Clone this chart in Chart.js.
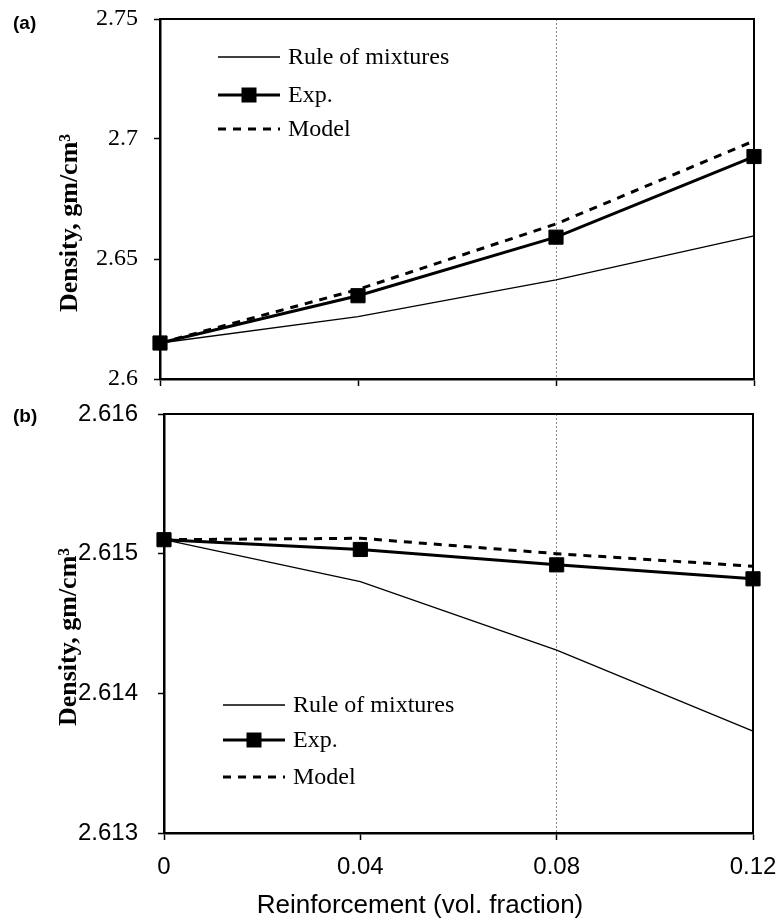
<!DOCTYPE html>
<html>
<head>
<meta charset="utf-8">
<script src="https://cdn.jsdelivr.net/npm/chart.js@4"></script>
<style>
  body { margin: 0; background: #fff; }
  #wrap { position: relative; width: 780px; height: 923px; overflow: hidden; }
  canvas { position: absolute; left: 0; }
  #ca { top: 0; }
  #cb { top: 400px; }
  .tag { position: absolute; left: 13px; font: bold 19px/19px "Liberation Sans", Arial, sans-serif; color: #000; }
</style>
</head>
<body>
<div id="wrap">
  <canvas id="ca" width="780" height="400"></canvas>
  <canvas id="cb" width="780" height="523"></canvas>
  <div class="tag" style="top:13px">(a)</div>
  <div class="tag" style="top:406px">(b)</div>
</div>
<script>
// shared x axis
const xValues = [0, 0.04, 0.08, 0.12];
const xTickLabels = ['0', '0.04', '0.08', '0.12'];
const seriesNames = ['Rule of mixtures', 'Exp.', 'Model'];

// panel (a)
const ruleA  = [2.615, 2.626, 2.6413, 2.6596];
const expA   = [2.615, 2.6347, 2.6591, 2.6927];
const modelA = [2.615, 2.6373, 2.6646, 2.6992];
const yTicksA = [2.6, 2.65, 2.7, 2.75];
const yTickLabelsA = ['2.6', '2.65', '2.7', '2.75'];

// panel (b)
const ruleB  = [2.6151, 2.6148, 2.61431, 2.61373];
const expB   = [2.6151, 2.61503, 2.61492, 2.61482];
const modelB = [2.6151, 2.61511, 2.6150, 2.61491];
const yTicksB = [2.613, 2.614, 2.615, 2.616];
const yTickLabelsB = ['2.613', '2.614', '2.615', '2.616'];

const yTitle = 'Density, gm/cm³';
const xTitle = 'Reinforcement (vol. fraction)';

Chart.defaults.font.family = '"Liberation Sans", Arial, sans-serif';
Chart.defaults.color = '#000';

const pts = arr => xValues.map((x, i) => ({ x: x, y: arr[i] }));

function makeSets(rule, exp, model) {
    return [
        { label: seriesNames[0], data: pts(rule), borderColor: '#000', borderWidth: 1.3,
          pointRadius: 0, tension: 0, clip: false },
        { label: seriesNames[1], data: pts(exp), borderColor: '#000', borderWidth: 3,
          pointStyle: 'rect', pointRadius: 10, pointBorderWidth: 1,
          pointBackgroundColor: '#000', pointBorderColor: '#000', tension: 0, clip: false },
        { label: seriesNames[2], data: pts(model), borderColor: '#000', borderWidth: 3,
          borderDash: [8, 7], pointRadius: 0, tension: 0, clip: false }
    ];
}

// no extra room for overhanging tick labels: the plot box is fixed
function noPad(s) {
    s.paddingTop = 0;
    s.paddingBottom = 0;
    s.paddingLeft = 0;
    s.paddingRight = 0;
}

// frame, in-plot legend and axis titles
const extras = {
    id: 'extras',
    beforeDatasetsDraw(chart) {
        const { ctx, chartArea: a } = chart;
        ctx.save();
        ctx.strokeStyle = '#000';
        ctx.lineWidth = 2;
        ctx.strokeRect(a.left, a.top, a.right - a.left, a.bottom - a.top);
        ctx.restore();
    },
    afterDraw(chart, args, opts) {
        const { ctx, chartArea: a } = chart;
        ctx.save();
        ctx.textBaseline = 'middle';
        ctx.fillStyle = '#000';
        ctx.font = '24px "Liberation Serif"';
        chart.data.datasets.forEach((ds, i) => {
            const y = a.top + opts.legendY[i];
            const x0 = a.left + opts.legendX, x1 = x0 + 62;
            ctx.beginPath();
            ctx.lineWidth = ds.borderWidth;
            ctx.strokeStyle = ds.borderColor;
            ctx.setLineDash(ds.borderDash || []);
            ctx.moveTo(x0, y);
            ctx.lineTo(x1, y);
            ctx.stroke();
            ctx.setLineDash([]);
            if (ds.pointRadius > 0) ctx.fillRect((x0 + x1) / 2 - 7.5, y - 7.5, 15, 15);
            ctx.fillText(ds.label, x1 + 8, y + 1);
        });

        ctx.font = 'bold 26px "Liberation Serif"';
        ctx.textAlign = 'center';
        ctx.translate(opts.yTitle.x, opts.yTitle.y);
        ctx.rotate(-Math.PI / 2);
        ctx.fillText(yTitle, 0, 0);
        ctx.restore();

        if (opts.xTitle) {
            ctx.save();
            ctx.font = '26px "Liberation Sans"';
            ctx.textAlign = 'center';
            ctx.textBaseline = 'middle';
            ctx.fillStyle = '#000';
            ctx.fillText(xTitle, opts.xTitle.x, opts.xTitle.y);
            ctx.restore();
        }
    }
};

function makeChart(id, sets, yMin, yMax, yTicks, yLabels, p) {
    return new Chart(document.getElementById(id), {
        type: 'line',
        data: { datasets: sets },
        plugins: [extras],
        options: {
            responsive: false,
            animation: false,
            layout: { padding: p.padding },
            plugins: {
                legend: { display: false },
                tooltip: { enabled: false },
                extras: p.extras
            },
            scales: {
                x: {
                    type: 'linear', min: 0, max: 0.12,
                    afterBuildTicks: s => { s.ticks = xValues.map(v => ({ value: v })); },
                    afterFit: s => { s.height = p.xHeight; noPad(s); },
                    ticks: {
                        display: p.xLabels,
                        font: { family: '"Liberation Sans"', size: 24 },
                        color: '#000', padding: 13, maxRotation: 0,
                        callback: (v, i) => xTickLabels[i]
                    },
                    grid: {
                        color: c => (c.tick && c.tick.value === 0.08) ? '#8a8a8a' : 'rgba(0,0,0,0)',
                        lineWidth: 1, tickLength: 7, tickColor: '#000', tickWidth: 1.5
                    },
                    border: { color: '#000', width: 2.5, dash: [2, 2] }
                },
                y: {
                    min: yMin, max: yMax,
                    afterBuildTicks: s => { s.ticks = yTicks.map(v => ({ value: v })); },
                    afterFit: s => { s.width = p.yWidth; noPad(s); },
                    ticks: {
                        font: p.yFont, color: '#000', padding: p.yPad,
                        callback: (v, i) => yLabels[i]
                    },
                    grid: { color: 'rgba(0,0,0,0)', tickColor: '#000', tickLength: 6, tickWidth: 1.5 },
                    border: { color: '#000', width: 2.5 }
                }
            }
        }
    });
}

makeChart('ca', makeSets(ruleA, expA, modelA), 2.6, 2.75, yTicksA, yTickLabelsA, {
    padding: { top: 19, right: 26, left: 0, bottom: 0 },
    xHeight: 21, yWidth: 160, xLabels: false, yPad: 16,
    yFont: { family: '"Liberation Serif"', size: 24 },
    extras: { legendX: 58, legendY: [38, 76, 110], yTitle: { x: 70, y: 223 } }
});

makeChart('cb', makeSets(ruleB, expB, modelB), 2.613, 2.616, yTicksB, yTickLabelsB, {
    padding: { top: 14, right: 27, left: 0, bottom: 0 },
    xHeight: 90, yWidth: 164, xLabels: true, yPad: 20,
    yFont: { family: '"Liberation Sans"', size: 24 },
    extras: { legendX: 59, legendY: [291, 326, 363], yTitle: { x: 69, y: 237 }, xTitle: { x: 420, y: 506 } }
});
</script>
</body>
</html>
